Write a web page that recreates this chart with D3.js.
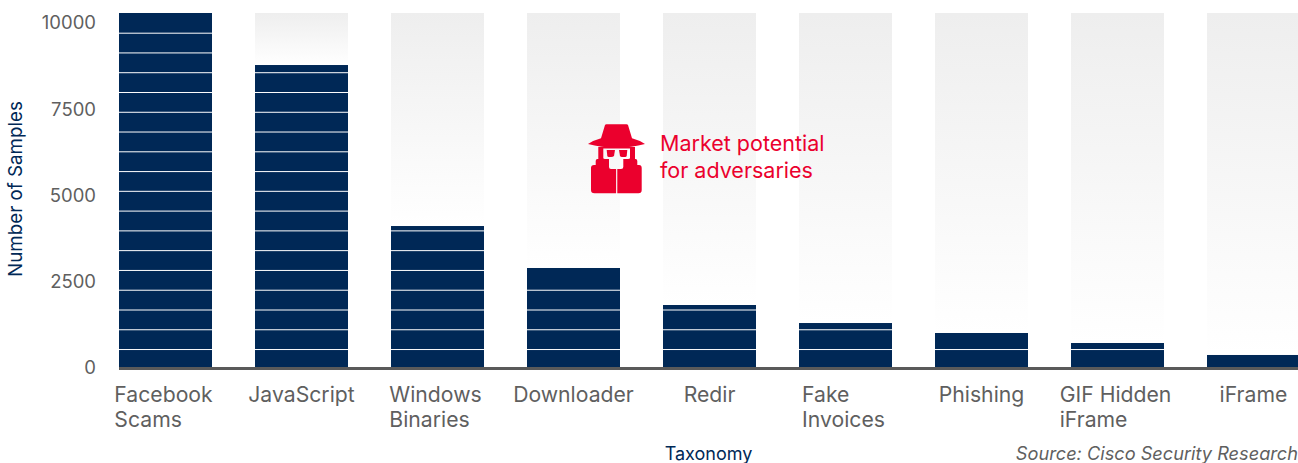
<!DOCTYPE html>
<html>
<head>
<meta charset="utf-8">
<script src="https://cdn.jsdelivr.net/npm/d3@7"></script>
<style>
html, body { margin: 0; padding: 0; background: #fff; overflow: hidden; }
svg { display: block; }
text { font-family: Inter, "Noto Sans", sans-serif; }
</style>
</head>
<body>
<div id="chart"></div>
<script>
var categories = ["Facebook|Scams", "JavaScript", "Windows|Binaries", "Downloader", "Redir", "Fake|Invoices", "Phishing", "GIF Hidden|iFrame", "iFrame"];
var samples = [10284, 8777, 4113, 2897, 1825, 1303, 1014, 724, 377];
var yTicks = [0, 2500, 5000, 7500, 10000];
// white rules that cut the bars
var gridLevels = [535, 1108, 1680, 2253, 2826, 3400, 3972, 4545, 5118, 5690, 6263, 6836, 7408, 7981, 8554, 9127, 9699];

var w = 1298, h = 463;
var navy = "#002856", red = "#eb002d", grey = "#5f5f5f";

var svg = d3.select("#chart").append("svg").attr("width", w).attr("height", h);
var defs = svg.append("defs");

var x = d3.scaleBand().domain(categories).range([119, 1300]).paddingInner(0.3162).paddingOuter(0);
var y = d3.scaleLinear().domain([0, 10000]).range([368, 22.8]);
var yTop = y(samples[0]);

// each backdrop fades out where its own bar starts
samples.forEach(function(v, i) {
    var g = defs.append("linearGradient").attr("id", "fade" + i)
        .attr("gradientUnits", "userSpaceOnUse")
        .attr("x1", 0).attr("x2", 0).attr("y1", yTop).attr("y2", y(v));
    g.append("stop").attr("offset", 0).attr("stop-color", "#eeeeee");
    g.append("stop").attr("offset", 1).attr("stop-color", "#ffffff");
});

var bars = svg.append("g");
bars.selectAll("rect.back").data(categories).enter().append("rect")
    .attr("class", "back")
    .attr("x", function(d) { return x(d); })
    .attr("width", x.bandwidth())
    .attr("y", yTop)
    .attr("height", y(0) - yTop)
    .attr("fill", function(d, i) { return i === 0 ? "none" : "url(#fade" + i + ")"; });

bars.selectAll("rect.bar").data(samples).enter().append("rect")
    .attr("class", "bar")
    .attr("x", function(d, i) { return x(categories[i]); })
    .attr("width", x.bandwidth())
    .attr("y", function(d) { return y(d); })
    .attr("height", function(d) { return y(0) - y(d); })
    .attr("fill", navy);

// rules only show on top of the bars, and not right under a bar's top edge
samples.forEach(function(v, i) {
    bars.append("g").selectAll("line").data(gridLevels.filter(function(l) { return l < v - 100; })).enter().append("line")
        .attr("x1", x(categories[i]))
        .attr("x2", x(categories[i]) + x.bandwidth())
        .attr("y1", function(d) { return y(d); })
        .attr("y2", function(d) { return y(d); })
        .attr("stroke", "#fff")
        .attr("stroke-width", 1);
});

var yAxis = svg.append("g").attr("transform", "translate(96,0)")
    .call(d3.axisLeft(y).tickValues(yTicks).tickSize(0).tickPadding(0).tickFormat(d3.format("d")));
yAxis.select(".domain").remove();
yAxis.selectAll("text").attr("font-size", 18.5).attr("fill", grey).attr("font-family", null);

var xAxis = svg.append("g").attr("transform", "translate(0," + y(0) + ")")
    .call(d3.axisBottom(x).tickSize(0).tickFormat(""));
xAxis.select(".domain").remove();

// labels are left aligned inside a block centred under the bar
xAxis.selectAll(".tick").each(function(d) {
    var lines = d.split("|");
    var t = d3.select(this).select("text")
        .attr("font-size", 21.2).attr("fill", grey).attr("font-family", null)
        .attr("text-anchor", "start").attr("y", 0).attr("dy", null);
    var spans = t.selectAll("tspan").data(lines).enter().append("tspan")
        .attr("y", function(l, i) { return 33.5 + i * 25; })
        .text(function(l) { return l; });
    var widest = 0;
    spans.each(function() { widest = Math.max(widest, this.getComputedTextLength()); });
    spans.attr("x", -widest / 2 - (lines.length > 1 ? 2 : 0));
});

svg.append("line").attr("x1", 119).attr("x2", 1298)
    .attr("y1", y(0) + 0.4).attr("y2", y(0) + 0.4)
    .attr("stroke", "#5a5a5a").attr("stroke-width", 3);

svg.append("text").attr("transform", "translate(22,189) rotate(-90)")
    .attr("text-anchor", "middle").attr("font-size", 18.8).attr("fill", navy)
    .text("Number of Samples");

svg.append("text").attr("x", 708.5).attr("y", 459.5)
    .attr("text-anchor", "middle").attr("font-size", 18).attr("fill", navy)
    .text("Taxonomy");

svg.append("text").attr("x", 1298).attr("y", 459.5)
    .attr("text-anchor", "end").attr("font-size", 18.2).attr("font-style", "italic").attr("fill", grey)
    .text("Source: Cisco Security Research");

// callout
var note = svg.append("g").attr("fill", red).attr("font-size", 21.5);
note.append("text").attr("x", 660).attr("y", 151).text("Market potential");
note.append("text").attr("x", 660).attr("y", 178).text("for adversaries");

var spy = svg.append("g").attr("transform", "translate(582,118)").attr("fill", red);
// hat
spy.append("path").attr("d", "M23,7 Q23.4,6.3 24.5,6.3 L44.5,6.3 Q45.6,6.3 46,7 L50,20.3 Q58,22.5 63,26 Q50,29.7 34.5,29.7 Q19,29.7 6,26 Q11,22.5 19,20.3 Z");
// hood and coat, with the face and the coat opening cut out
spy.append("path").attr("fill-rule", "evenodd").attr("d",
    "M16.3,29 L53,29 L53,41 L53.5,41 Q55.3,41 55.3,43 L55.3,47 L57,47 Q59.7,47 59.7,50 L59.7,72 Q59.7,75.3 56.5,75.3 L12.5,75.3 Q9,75.3 9,72 L9,50 Q9,47 12,47 L13.7,47 L13.7,43 Q13.7,41 15.5,41 L16.3,41 Z " +
    "M21.3,30.5 L48,30.5 L48,40 Q48,41 46,41 L41.3,41 L41.3,49 Q41.3,51 39,51 L35.3,51 L35.3,75.3 L34.1,75.3 L34.1,51 L29,51 Q27,51 27,49 L27,41 L23,41 Q21.3,41 21.3,40 Z");
// eyes
spy.append("path").attr("d", "M24.7,32 L33,32 L32,38 Q31,39 29,39 L27,39 Q25.5,39 25.3,38 Z");
spy.append("path").attr("d", "M37,32 L45.3,32 L44.7,38 Q44.5,39 43,39 L40,39 Q38.5,39 38,38 Z");
</script>
</body>
</html>
